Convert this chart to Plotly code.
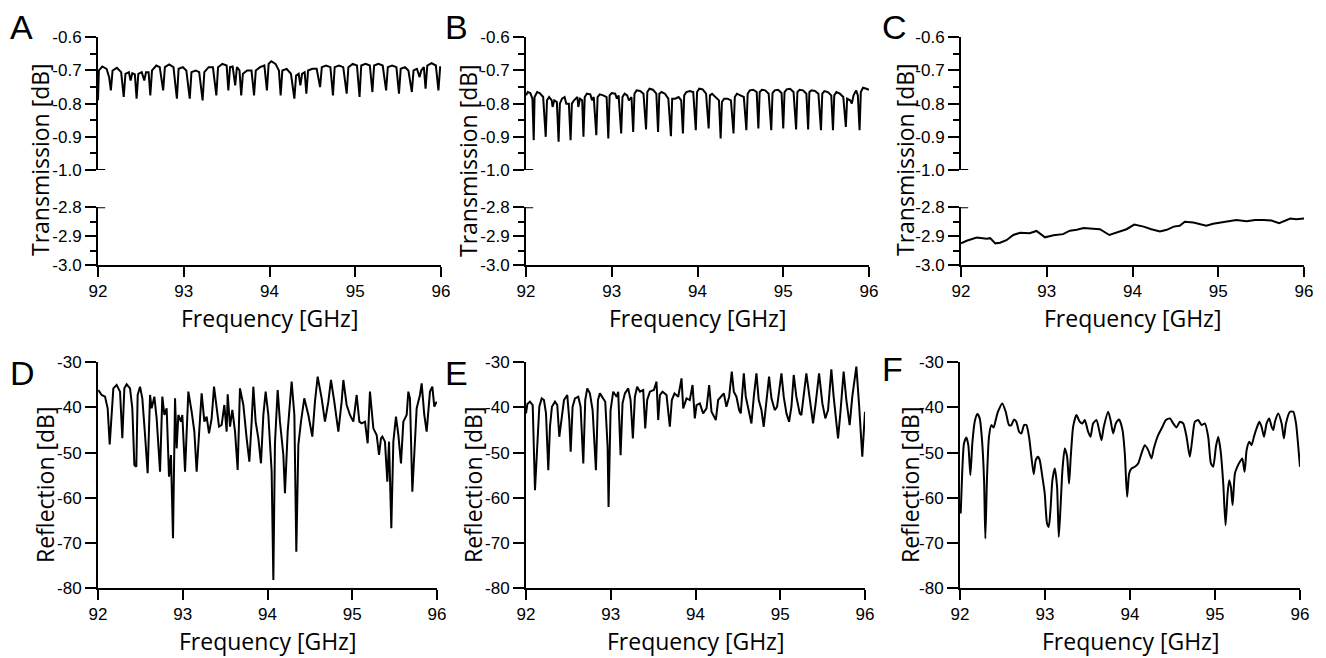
import plotly.graph_objects as go

# ---------------- data ----------------
freq_A = [92.00, 92.01, 92.05, 92.10, 92.13, 92.15, 92.17, 92.22, 92.27, 92.30, 92.32, 92.36, 92.38, 92.40,
          92.43, 92.45, 92.47, 92.51, 92.54, 92.56, 92.59, 92.61, 92.63, 92.68, 92.72, 92.76, 92.78, 92.83,
          92.88, 92.92, 92.94, 92.99, 93.03, 93.07, 93.09, 93.14, 93.18, 93.22, 93.24, 93.29, 93.34, 93.38,
          93.40, 93.45, 93.50, 93.52, 93.54, 93.57, 93.60, 93.62, 93.65, 93.67, 93.69, 93.74, 93.79, 93.82,
          93.84, 93.89, 93.94, 93.97, 93.99, 94.02, 94.07, 94.11, 94.13, 94.15, 94.20, 94.25, 94.29, 94.31,
          94.34, 94.36, 94.38, 94.41, 94.43, 94.45, 94.50, 94.55, 94.59, 94.61, 94.66, 94.71, 94.74, 94.76,
          94.81, 94.86, 94.90, 94.92, 94.97, 95.02, 95.05, 95.07, 95.12, 95.17, 95.20, 95.22, 95.27, 95.32,
          95.36, 95.38, 95.43, 95.48, 95.51, 95.53, 95.58, 95.62, 95.66, 95.68, 95.72, 95.75, 95.77, 95.80,
          95.82, 95.84, 95.89, 95.94, 95.97, 95.99, 96.00]
trans_A = [-0.79, -0.70, -0.688, -0.695, -0.72, -0.76, -0.70, -0.692, -0.705, -0.78, -0.71, -0.705, -0.73, -0.708,
           -0.712, -0.785, -0.71, -0.705, -0.73, -0.705, -0.705, -0.775, -0.70, -0.685, -0.69, -0.76, -0.69, -0.682,
           -0.69, -0.785, -0.695, -0.69, -0.70, -0.785, -0.705, -0.70, -0.705, -0.79, -0.705, -0.69, -0.69, -0.775,
           -0.69, -0.68, -0.685, -0.76, -0.69, -0.688, -0.745, -0.69, -0.70, -0.775, -0.71, -0.70, -0.70, -0.775,
           -0.70, -0.69, -0.685, -0.76, -0.68, -0.672, -0.68, -0.70, -0.775, -0.70, -0.695, -0.71, -0.785, -0.715,
           -0.71, -0.745, -0.71, -0.705, -0.77, -0.70, -0.695, -0.695, -0.75, -0.69, -0.685, -0.69, -0.775, -0.69,
           -0.685, -0.69, -0.77, -0.69, -0.68, -0.685, -0.78, -0.685, -0.68, -0.685, -0.765, -0.685, -0.68, -0.685,
           -0.76, -0.69, -0.685, -0.69, -0.77, -0.695, -0.69, -0.70, -0.765, -0.70, -0.695, -0.72, -0.70, -0.69,
           -0.755, -0.685, -0.678, -0.685, -0.76, -0.69, -0.69]

freq_B = [92.00, 92.02, 92.05, 92.075, 92.09, 92.10, 92.13, 92.16, 92.20, 92.23, 92.245, 92.27, 92.30, 92.31,
          92.33, 92.36, 92.38, 92.395, 92.42, 92.45, 92.47, 92.50, 92.52, 92.535, 92.56, 92.60, 92.61, 92.63,
          92.655, 92.67, 92.685, 92.71, 92.75, 92.77, 92.79, 92.82, 92.835, 92.86, 92.90, 92.94, 92.96, 92.975,
          93.00, 93.04, 93.06, 93.08, 93.11, 93.125, 93.15, 93.18, 93.20, 93.23, 93.25, 93.265, 93.29, 93.33,
          93.37, 93.40, 93.415, 93.44, 93.48, 93.52, 93.54, 93.555, 93.58, 93.62, 93.66, 93.69, 93.705, 93.74,
          93.78, 93.81, 93.83, 93.845, 93.87, 93.91, 93.95, 93.98, 93.995, 94.02, 94.06, 94.10, 94.13, 94.145,
          94.17, 94.21, 94.25, 94.27, 94.285, 94.31, 94.35, 94.39, 94.42, 94.435, 94.46, 94.50, 94.54, 94.57,
          94.585, 94.61, 94.65, 94.69, 94.71, 94.725, 94.75, 94.79, 94.83, 94.86, 94.875, 94.90, 94.94, 94.98,
          95.00, 95.015, 95.04, 95.08, 95.12, 95.15, 95.165, 95.19, 95.23, 95.27, 95.29, 95.305, 95.33, 95.37,
          95.41, 95.44, 95.455, 95.48, 95.52, 95.56, 95.58, 95.595, 95.62, 95.66, 95.70, 95.73, 95.745, 95.78,
          95.80, 95.82, 95.85, 95.87, 95.89, 95.905, 95.93, 95.97, 96.00]
trans_B = [-0.775, -0.765, -0.768, -0.785, -0.91, -0.78, -0.765, -0.768, -0.78, -0.90, -0.79, -0.78, -0.79, -0.81,
           -0.79, -0.795, -0.915, -0.80, -0.785, -0.78, -0.80, -0.80, -0.91, -0.80, -0.79, -0.78, -0.81, -0.785,
           -0.79, -0.90, -0.78, -0.77, -0.772, -0.79, -0.78, -0.895, -0.78, -0.772, -0.775, -0.78, -0.905, -0.775,
           -0.768, -0.77, -0.785, -0.775, -0.89, -0.78, -0.77, -0.775, -0.79, -0.78, -0.885, -0.77, -0.76, -0.762,
           -0.77, -0.878, -0.765, -0.755, -0.758, -0.77, -0.885, -0.77, -0.765, -0.77, -0.785, -0.898, -0.785, -0.785,
           -0.78, -0.79, -0.89, -0.775, -0.765, -0.762, -0.765, -0.88, -0.765, -0.755, -0.757, -0.77, -0.875, -0.775,
           -0.77, -0.78, -0.79, -0.905, -0.795, -0.785, -0.785, -0.79, -0.89, -0.78, -0.77, -0.775, -0.78, -0.88,
           -0.77, -0.76, -0.758, -0.765, -0.875, -0.765, -0.758, -0.76, -0.77, -0.88, -0.768, -0.76, -0.758, -0.768,
           -0.875, -0.765, -0.757, -0.755, -0.765, -0.878, -0.765, -0.758, -0.76, -0.77, -0.878, -0.765, -0.76, -0.762,
           -0.77, -0.88, -0.77, -0.762, -0.765, -0.775, -0.88, -0.775, -0.765, -0.77, -0.78, -0.87, -0.785, -0.79,
           -0.80, -0.775, -0.76, -0.775, -0.88, -0.765, -0.752, -0.755, -0.758]

freq_C = [92.00, 92.066, 92.183, 92.30, 92.34, 92.40, 92.455, 92.53, 92.61, 92.69, 92.80, 92.88, 92.98, 93.08,
          93.19, 93.27, 93.35, 93.43, 93.54, 93.62, 93.73, 93.82, 93.93, 94.02, 94.13, 94.22, 94.32, 94.40,
          94.48, 94.55, 94.61, 94.71, 94.79, 94.86, 94.94, 95.02, 95.10, 95.21, 95.33, 95.43, 95.53, 95.62,
          95.71, 95.78, 95.84, 95.91, 96.00]
trans_C = [-2.925, -2.916, -2.905, -2.909, -2.907, -2.925, -2.923, -2.914, -2.896, -2.888, -2.890, -2.882, -2.904, -2.897,
           -2.893, -2.881, -2.878, -2.872, -2.874, -2.876, -2.896, -2.888, -2.876, -2.860, -2.867, -2.876, -2.884, -2.878,
           -2.867, -2.864, -2.850, -2.853, -2.860, -2.864, -2.857, -2.853, -2.850, -2.844, -2.848, -2.844, -2.844, -2.846,
           -2.855, -2.846, -2.839, -2.841, -2.839]

freq_D = [92.004, 92.043, 92.083, 92.114, 92.138, 92.161, 92.181, 92.220, 92.260, 92.287, 92.311, 92.338, 92.378, 92.405,
          92.429, 92.452, 92.468, 92.496, 92.523, 92.555, 92.586, 92.614, 92.633, 92.665, 92.692, 92.732, 92.759, 92.783,
          92.810, 92.838, 92.861, 92.885, 92.909, 92.928, 92.948, 92.979, 92.995, 93.027, 93.066, 93.105, 93.137, 93.164,
          93.192, 93.223, 93.255, 93.282, 93.310, 93.341, 93.369, 93.400, 93.428, 93.459, 93.491, 93.518, 93.530, 93.558,
          93.585, 93.617, 93.648, 93.675, 93.715, 93.754, 93.786, 93.813, 93.833, 93.860, 93.892, 93.923, 93.951, 93.978,
          94.010, 94.049, 94.069, 94.088, 94.120, 94.147, 94.187, 94.206, 94.238, 94.285, 94.317, 94.340, 94.364, 94.395,
          94.434, 94.482, 94.529, 94.560, 94.592, 94.639, 94.678, 94.718, 94.749, 94.788, 94.836, 94.875, 94.895, 94.934,
          94.973, 95.013, 95.052, 95.084, 95.111, 95.150, 95.182, 95.209, 95.249, 95.288, 95.316, 95.339, 95.355, 95.386,
          95.414, 95.434, 95.461, 95.485, 95.516, 95.544, 95.575, 95.603, 95.642, 95.662, 95.681, 95.709, 95.740, 95.760,
          95.799, 95.819, 95.850, 95.878, 95.917, 95.945, 95.968, 95.996]
refl_D = [-36.14, -37.24, -37.61, -40.20, -48.17, -40.20, -35.77, -35.03, -36.50, -46.84, -35.77, -34.88, -35.77, -40.20,
          -52.75, -53.12, -37.24, -35.40, -37.98, -46.10, -54.59, -37.24, -40.20, -37.61, -42.41, -54.22, -37.61, -41.67,
          -40.20, -55.33, -50.53, -68.99, -37.98, -49.06, -41.67, -43.15, -41.67, -54.22, -36.50, -40.93, -45.36, -54.22,
          -45.36, -36.87, -43.15, -42.04, -45.73, -42.41, -35.40, -40.20, -44.26, -43.89, -39.46, -45.36, -37.10, -44.26,
          -40.56, -45.36, -53.85, -35.77, -39.46, -46.84, -52.01, -43.15, -35.40, -43.15, -46.84, -52.38, -41.67, -36.50,
          -41.67, -54.22, -78.22, -47.95, -36.14, -43.15, -50.53, -59.02, -45.36, -34.29, -41.67, -71.94, -48.32, -43.15,
          -37.98, -41.67, -46.47, -38.72, -33.18, -37.98, -43.15, -38.72, -33.92, -38.72, -45.36, -38.72, -33.92, -39.46,
          -41.67, -43.15, -37.24, -43.15, -43.52, -43.15, -47.95, -36.50, -44.63, -46.10, -50.53, -46.84, -46.47, -47.58,
          -56.44, -47.58, -66.77, -47.58, -42.04, -46.10, -52.38, -43.15, -41.67, -36.50, -37.98, -58.65, -49.06, -40.20,
          -37.24, -34.66, -41.67, -45.36, -36.50, -35.40, -39.83, -38.72]

freq_E = [92.000, 92.016, 92.047, 92.079, 92.106, 92.134, 92.157, 92.185, 92.212, 92.236, 92.251, 92.263, 92.283, 92.306,
          92.342, 92.369, 92.393, 92.409, 92.448, 92.487, 92.511, 92.527, 92.550, 92.578, 92.617, 92.644, 92.676, 92.699,
          92.723, 92.754, 92.786, 92.825, 92.849, 92.872, 92.904, 92.935, 92.963, 92.974, 92.998, 93.029, 93.069, 93.088,
          93.116, 93.139, 93.167, 93.206, 93.234, 93.261, 93.285, 93.312, 93.344, 93.383, 93.407, 93.430, 93.462, 93.509,
          93.540, 93.560, 93.580, 93.611, 93.658, 93.697, 93.721, 93.752, 93.796, 93.835, 93.855, 93.894, 93.933, 93.965,
          93.992, 94.012, 94.051, 94.090, 94.130, 94.161, 94.189, 94.240, 94.267, 94.306, 94.334, 94.365, 94.397, 94.428,
          94.452, 94.483, 94.515, 94.534, 94.570, 94.593, 94.633, 94.660, 94.688, 94.719, 94.746, 94.778, 94.805, 94.837,
          94.868, 94.896, 94.935, 94.963, 95.014, 95.041, 95.073, 95.104, 95.132, 95.159, 95.190, 95.230, 95.249, 95.308,
          95.348, 95.387, 95.418, 95.458, 95.497, 95.532, 95.564, 95.603, 95.630, 95.654, 95.682, 95.709, 95.748, 95.780,
          95.819, 95.850, 95.898, 95.929, 95.945, 95.968, 96.000]
refl_E = [-41.32, -39.25, -38.73, -39.47, -58.33, -47.24, -39.84, -37.99, -38.36, -41.32, -47.24, -53.89, -44.28, -39.84,
          -38.73, -39.47, -46.50, -44.28, -38.36, -37.25, -42.80, -49.83, -39.84, -37.99, -37.62, -39.84, -52.41, -38.36,
          -35.77, -36.88, -40.58, -53.89, -38.36, -36.88, -37.99, -38.73, -48.72, -62.03, -40.58, -36.51, -37.62, -36.51,
          -50.57, -39.10, -36.88, -35.77, -38.36, -46.87, -37.62, -35.40, -36.51, -36.14, -44.65, -38.36, -36.51, -36.14,
          -34.29, -42.80, -37.25, -36.51, -37.25, -44.28, -38.36, -36.88, -37.62, -33.55, -40.21, -37.99, -38.36, -35.03,
          -42.43, -39.47, -39.10, -41.32, -40.21, -35.03, -40.95, -42.80, -38.36, -37.62, -36.88, -39.84, -37.62, -32.08,
          -36.51, -37.62, -40.58, -41.32, -32.44, -37.62, -41.32, -43.54, -37.62, -32.44, -38.36, -40.58, -44.28, -38.36,
          -33.18, -37.99, -40.58, -39.84, -32.44, -37.62, -41.32, -43.17, -39.84, -32.81, -37.62, -41.32, -41.69, -32.44,
          -38.36, -43.54, -39.10, -32.44, -39.10, -42.43, -40.58, -31.56, -37.62, -41.32, -46.87, -41.32, -32.08, -38.36,
          -43.91, -37.62, -30.97, -39.10, -45.02, -50.93, -40.95]

freq_F = [92.008, 92.027, 92.047, 92.075, 92.098, 92.122, 92.145, 92.173, 92.204, 92.232, 92.259, 92.283, 92.298, 92.318,
          92.341, 92.369, 92.396, 92.420, 92.447, 92.498, 92.538, 92.577, 92.604, 92.636, 92.663, 92.695, 92.722, 92.754,
          92.781, 92.812, 92.840, 92.867, 92.891, 92.918, 92.938, 92.969, 92.997, 93.024, 93.044, 93.064, 93.087, 93.115,
          93.142, 93.162, 93.181, 93.205, 93.232, 93.260, 93.283, 93.303, 93.331, 93.370, 93.409, 93.440, 93.468, 93.507,
          93.535, 93.566, 93.605, 93.637, 93.664, 93.692, 93.743, 93.771, 93.802, 93.833, 93.872, 93.912, 93.939, 93.966,
          93.990, 94.017, 94.057, 94.096, 94.135, 94.174, 94.214, 94.253, 94.280, 94.331, 94.382, 94.422, 94.469, 94.508,
          94.547, 94.587, 94.626, 94.665, 94.704, 94.736, 94.763, 94.802, 94.842, 94.881, 94.920, 94.952, 94.979, 95.011,
          95.038, 95.065, 95.097, 95.124, 95.148, 95.167, 95.187, 95.207, 95.234, 95.262, 95.293, 95.321, 95.348, 95.372,
          95.403, 95.430, 95.458, 95.489, 95.521, 95.548, 95.576, 95.607, 95.638, 95.666, 95.686, 95.705, 95.744, 95.784,
          95.811, 95.835, 95.882, 95.921, 95.953, 95.980, 96.000]
refl_F = [-63.51, -53.89, -47.98, -46.65, -48.35, -55.00, -47.98, -43.17, -41.47, -42.43, -47.24, -56.11, -69.05, -55.37,
          -46.50, -43.91, -44.43, -42.80, -40.95, -39.10, -40.95, -43.91, -43.91, -42.65, -43.17, -45.39, -45.76, -43.91,
          -43.91, -46.50, -50.93, -54.78, -51.67, -50.93, -51.67, -55.37, -59.07, -65.73, -66.47, -62.77, -56.11, -53.52,
          -57.59, -68.69, -62.77, -53.89, -49.09, -50.93, -56.85, -50.93, -44.28, -41.69, -43.17, -43.54, -42.80, -45.39,
          -46.50, -43.54, -42.80, -45.02, -47.24, -44.28, -40.95, -42.80, -45.76, -43.54, -42.65, -45.02, -50.19, -59.81,
          -54.63, -53.52, -53.15, -52.41, -50.19, -48.35, -49.46, -51.30, -49.09, -46.13, -44.28, -42.80, -42.43, -43.54,
          -44.43, -43.17, -43.54, -46.50, -50.93, -46.50, -43.17, -42.80, -43.91, -43.54, -46.50, -52.41, -53.15, -48.72,
          -46.50, -49.46, -56.85, -66.10, -59.07, -56.11, -57.59, -61.66, -54.63, -53.15, -52.04, -51.30, -54.26, -49.46,
          -47.61, -48.35, -46.50, -44.65, -43.17, -44.28, -46.50, -43.54, -42.43, -44.28, -45.02, -43.17, -41.32, -43.54,
          -46.87, -43.54, -40.95, -40.95, -43.54, -48.72, -53.15]

x_ticks = [92, 93, 94, 95, 96]
t_upper_ticks = [-1.0, -0.9, -0.8, -0.7, -0.6]
t_upper_minor = [-0.95, -0.85, -0.75, -0.65]
t_lower_ticks = [-3.0, -2.9, -2.8]
t_lower_minor = [-2.95, -2.85]
r_ticks = [-80, -70, -60, -50, -40, -30]

# ---------------- layout helpers ----------------
# The page body has an 8px margin, so the figure is drawn 8px in from the window edge.
OFF = 8
WIN_W, WIN_H = 1326, 658
W, H = WIN_W - 2 * OFF, WIN_H - OFF

def fx(p):
    return (p - OFF) / W

def fy(p):
    return 1 - (p - OFF) / H

TICKFONT = dict(family="Liberation Sans, Arial, sans-serif", size=17, color="black")
TITLEFONT = dict(family="Open Sans, sans-serif", size=23, color="black")
LETTERFONT = dict(family="Liberation Sans, Arial, sans-serif", size=34, color="black")

base_axis = dict(showline=True, linecolor="black", linewidth=2, ticks="outside", tickcolor="black",
                 tickwidth=2, showgrid=False, zeroline=False, tickfont=TICKFONT, fixedrange=True,
                 automargin=False)

def lab(v, nd):
    return f"{v:.{nd}f}"

fig = go.Figure()

top_cols = [(98, 441), (526, 869), (961, 1304)]
bot_cols = [(98, 437), (526, 865), (960, 1300)]
upper_dom = [fy(170), fy(37.3)]
lower_dom = [fy(265), fy(207.3)]
bottom_dom = [fy(588), fy(362.3)]

layout = dict(width=W, height=H, margin=dict(l=0, r=0, t=0, b=0, pad=0, autoexpand=False),
              paper_bgcolor="white", plot_bgcolor="white", showlegend=False, template="none")

shapes = []
for i, (x0, x1) in enumerate(top_cols):
    xn = i + 1
    ylo = 2 * i + 1
    yup = 2 * i + 2
    xkey = "xaxis" if xn == 1 else f"xaxis{xn}"
    layout[xkey] = dict(base_axis, domain=[fx(x0), fx(x1)], range=[92, 96], tickvals=x_ticks,
                        ticktext=[str(v) for v in x_ticks], ticklen=10, anchor=f"y{ylo}" if ylo > 1 else "y")
    ylo_key = "yaxis" if ylo == 1 else f"yaxis{ylo}"
    layout[ylo_key] = dict(base_axis, domain=lower_dom, range=[-3.0, -2.8], tickvals=t_lower_ticks,
                           ticktext=[lab(v, 1) for v in t_lower_ticks], ticklen=11,
                           minor=dict(tickvals=t_lower_minor, ticks="outside", ticklen=6, tickwidth=2,
                                      tickcolor="black", showgrid=False),
                           anchor="x" if xn == 1 else f"x{xn}")
    layout[f"yaxis{yup}"] = dict(base_axis, domain=upper_dom, range=[-1.0, -0.6], tickvals=t_upper_ticks,
                                 ticktext=[lab(v, 1) for v in t_upper_ticks], ticklen=11,
                                 minor=dict(tickvals=t_upper_minor, ticks="outside", ticklen=6, tickwidth=2,
                                            tickcolor="black", showgrid=False),
                                 anchor="x" if xn == 1 else f"x{xn}")
    xr = "x domain" if xn == 1 else f"x{xn} domain"
    # axis-break caps
    shapes.append(dict(type="line", xref=xr, yref=f"y{yup}", x0=0, x1=0.021, y0=-1.0, y1=-1.0,
                       line=dict(color="black", width=2)))
    shapes.append(dict(type="line", xref=xr, yref="y" if ylo == 1 else f"y{ylo}", x0=0, x1=0.021,
                       y0=-2.8, y1=-2.8, line=dict(color="black", width=2)))

for i, (x0, x1) in enumerate(bot_cols):
    xn = i + 4
    yn = i + 7
    layout[f"xaxis{xn}"] = dict(base_axis, domain=[fx(x0), fx(x1)], range=[92, 96], tickvals=x_ticks,
                                ticktext=[str(v) for v in x_ticks], ticklen=10, anchor=f"y{yn}")
    layout[f"yaxis{yn}"] = dict(base_axis, domain=bottom_dom, range=[-80, -30], tickvals=r_ticks,
                                ticktext=[str(v) for v in r_ticks], ticklen=11, anchor=f"x{xn}")

line = dict(color="black", width=2)
fig.add_trace(go.Scatter(x=freq_A, y=trans_A, mode="lines", line=line, xaxis="x", yaxis="y2"))
fig.add_trace(go.Scatter(x=freq_B, y=trans_B, mode="lines", line=line, xaxis="x2", yaxis="y4"))
fig.add_trace(go.Scatter(x=freq_C, y=trans_C, mode="lines", line=line, xaxis="x3", yaxis="y5"))
fig.add_trace(go.Scatter(x=freq_D, y=refl_D, mode="lines", line=line, xaxis="x4", yaxis="y7"))
fig.add_trace(go.Scatter(x=freq_E, y=refl_E, mode="lines", line=line, xaxis="x5", yaxis="y8"))
fig.add_trace(go.Scatter(x=freq_F, y=refl_F, mode="lines", line=dict(color="black", width=2, shape="spline",
                                                                      smoothing=0.6), xaxis="x6", yaxis="y9"))

ann = []
# y-axis titles
for cx in (40, 468, 905):
    ann.append(dict(text="Transmission [dB]", x=fx(cx), y=fy(160), xref="paper", yref="paper",
                    textangle=-90, showarrow=False, font=TITLEFONT, xanchor="center", yanchor="middle"))
for cx in (45, 473, 910):
    ann.append(dict(text="Reflection [dB]", x=fx(cx), y=fy(485), xref="paper", yref="paper",
                    textangle=-90, showarrow=False, font=TITLEFONT, xanchor="center", yanchor="middle"))
# x-axis titles
for (x0, x1) in top_cols:
    ann.append(dict(text="Frequency [GHz]", x=fx((x0 + x1) / 2), y=fy(318), xref="paper", yref="paper",
                    showarrow=False, font=TITLEFONT, xanchor="center", yanchor="middle"))
for (x0, x1) in bot_cols:
    ann.append(dict(text="Frequency [GHz]", x=fx((x0 + x1) / 2), y=fy(641), xref="paper", yref="paper",
                    showarrow=False, font=TITLEFONT, xanchor="center", yanchor="middle"))
# panel letters
for letter, cx, cy in [("A", 21, 27), ("B", 456, 27), ("C", 894, 27),
                       ("D", 22, 373), ("E", 456, 373), ("F", 892, 369)]:
    ann.append(dict(text=letter, x=fx(cx), y=fy(cy), xref="paper", yref="paper", showarrow=False,
                    font=LETTERFONT, xanchor="center", yanchor="middle"))

layout["annotations"] = ann
layout["shapes"] = shapes
fig.update_layout(**layout)

fig.write_html("out.html")
